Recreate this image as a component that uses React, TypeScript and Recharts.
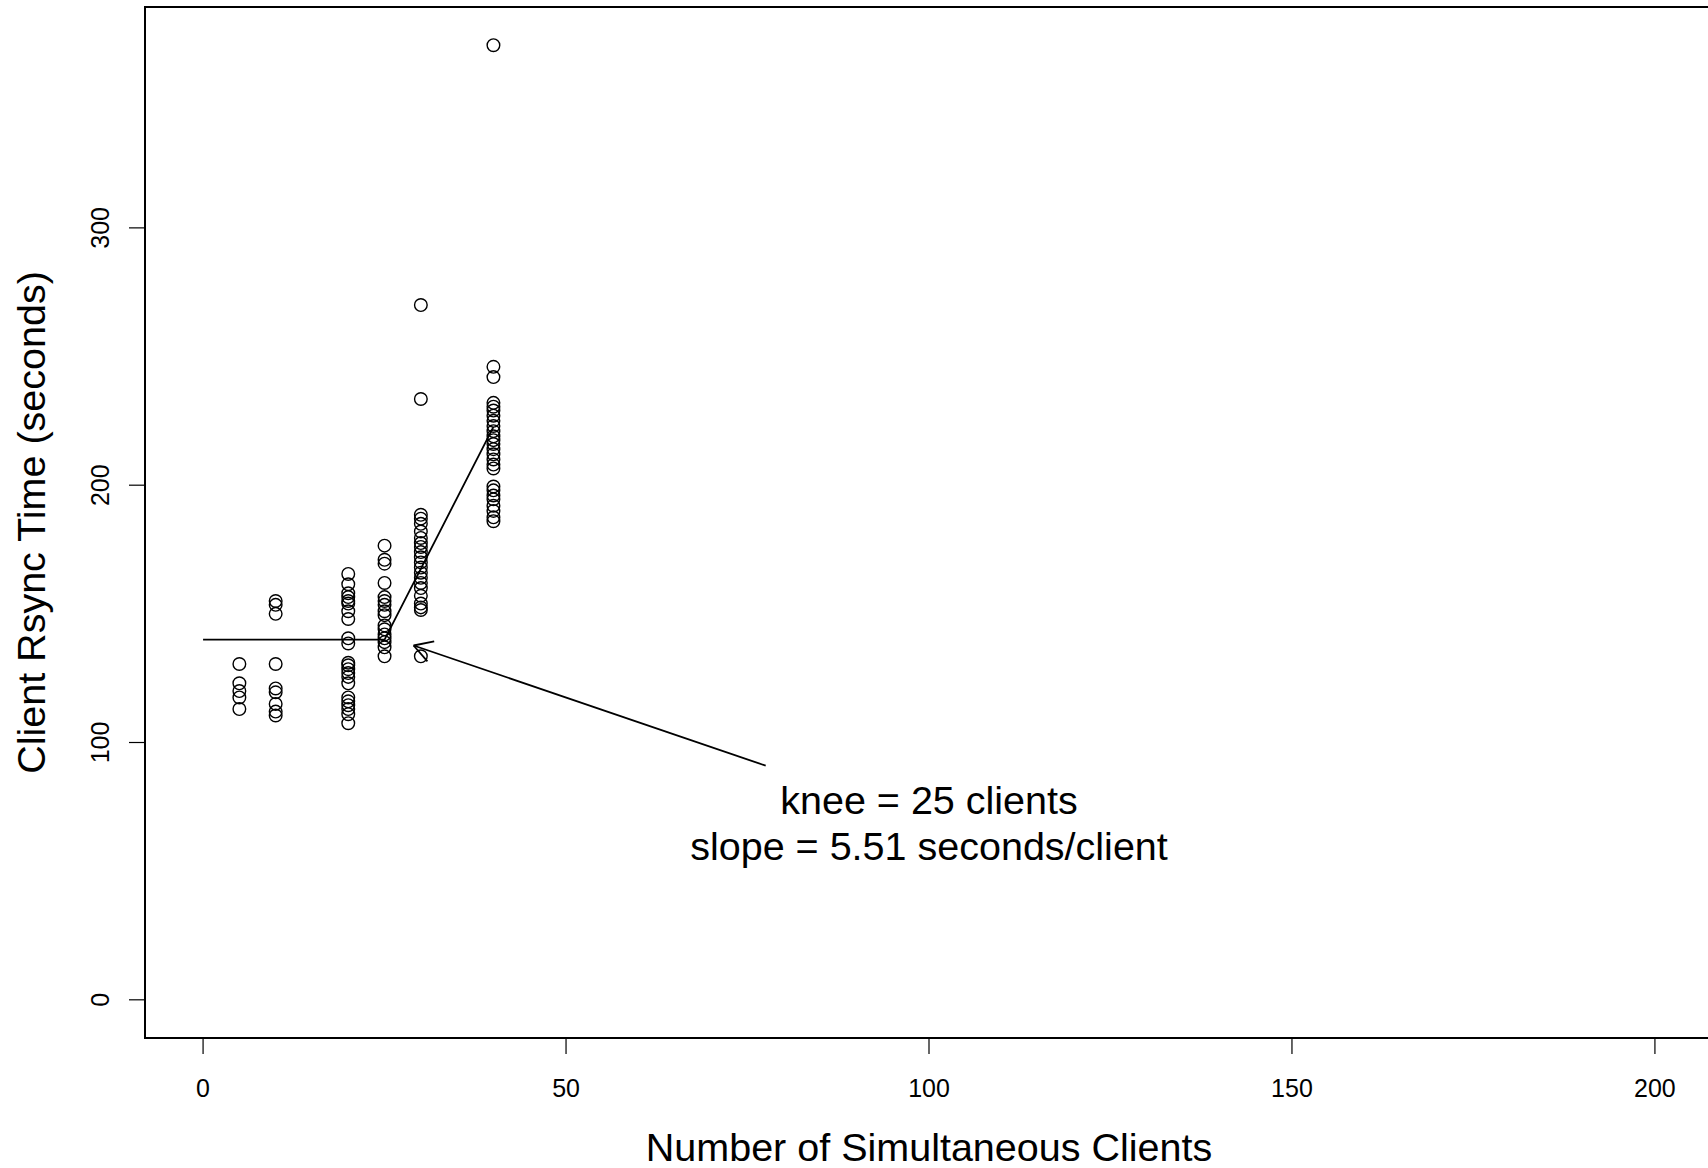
import React from 'react';
import {
  ScatterChart,
  Scatter,
  XAxis,
  YAxis,
  ReferenceArea,
  ReferenceLine,
} from 'recharts';

// rsync times (seconds) observed for each number of simultaneous clients
const clients5 = [130.5, 123, 120, 117.5, 113];
const clients10 = [155, 153.5, 150, 130.5, 121, 119.5, 115, 112, 110.5];
const clients20 = [
  165.5, 161.5, 158, 156.5, 155, 154, 151, 148, 140.5, 138.5, 131, 130, 128.5, 127, 125.5, 123,
  117.5, 116, 114.5, 113, 111, 107.5,
];
const clients25 = [176.5, 171, 169.5, 162, 156.5, 155, 153.5, 151, 149.5, 145.5, 144, 142, 140.5, 139, 137, 133.5];
const clients30 = [
  270, 233.5, 188.5, 187, 185, 182, 179.5, 177.5, 176, 174, 172, 170, 168, 166, 164, 162, 160, 157, 154,
  152.5, 151.5, 133.5,
];
const clients40 = [
  371, 246, 242, 232, 230.5, 229, 227, 225, 223, 221, 219, 217.5, 216, 214, 212, 210, 208, 206.5, 199.5,
  198, 196, 194.5, 192, 190, 187.5, 186,
];

// segmented fit: flat until the knee, then 5.51 s per client
const fitX = [0, 25, 40];
const fitY = [140, 140, 222.65];

const xTicks = [0, 50, 100, 150, 200];
const yTicks = [0, 100, 200, 300];
const xDomain: [number, number] = [-8, 208];
const yDomain: [number, number] = [-14.84, 385.84];

const noteX = 100;
const noteY = 70;
const noteLines = ['knee = 25 clients', 'slope = 5.51 seconds/client'];
const arrowFrom = { x: 77.5, y: 91 };
const arrowTo = { x: 29, y: 137.7 };

const xTitle = 'Number of Simultaneous Clients';
const yTitle = 'Client Rsync Time (seconds)';

const groups: Array<[number, number[]]> = [
  [5, clients5],
  [10, clients10],
  [20, clients20],
  [25, clients25],
  [30, clients30],
  [40, clients40],
];
const points = groups.flatMap(([x, ys]) => ys.map((y) => ({ x, y })));
const fitLine = fitX.map((x, i) => ({ x, y: fitY[i] }));

const FONT = '"Liberation Sans", Arial, Helvetica, sans-serif';

const OpenCircle = (props: any) => (
  <circle cx={props.cx} cy={props.cy} r={6.3} fill="none" stroke="#000" strokeWidth={1.4} />
);

const YTick = (props: any) => {
  const { x, y, payload } = props;
  const bx = x - 18;
  return (
    <text x={bx} y={y} transform={`rotate(-90, ${bx}, ${y})`} textAnchor="middle" fontSize={25} fill="#000">
      {payload.value}
    </text>
  );
};

const Arrow = (props: any) => {
  const { x1, y1, x2, y2 } = props;
  const ang = Math.atan2(y1 - y2, x1 - x2);
  const len = 21;
  const a1 = ang + Math.PI / 6;
  const a2 = ang - Math.PI / 6;
  return (
    <g stroke="#000" strokeWidth={1.8} fill="none">
      <line x1={x1} y1={y1} x2={x2} y2={y2} />
      <line x1={x2} y1={y2} x2={x2 + len * Math.cos(a1)} y2={y2 + len * Math.sin(a1)} />
      <line x1={x2} y1={y2} x2={x2 + len * Math.cos(a2)} y2={y2 + len * Math.sin(a2)} />
    </g>
  );
};

const Note = (props: any) => (
  <text x={props.cx} y={props.cy} textAnchor="middle" fontSize={39.5} fill="#000">
    <tspan x={props.cx} dy={-6}>{noteLines[0]}</tspan>
    <tspan x={props.cx} dy={46.5}>{noteLines[1]}</tspan>
  </text>
);

export default function App() {
  return (
    <div
      style={{
        position: 'fixed',
        left: 0,
        top: 0,
        width: 1708,
        height: 1168,
        overflow: 'hidden',
        background: '#fff',
        fontFamily: FONT,
      }}
    >
      <ScatterChart width={1713} height={1168} margin={{ top: 7, right: 0, bottom: 0, left: 0 }}>
        <XAxis
          type="number"
          dataKey="x"
          domain={xDomain}
          ticks={xTicks}
          allowDataOverflow
          height={130}
          axisLine={false}
          tickLine={{ stroke: '#000', strokeWidth: 1.2 }}
          tickSize={16}
          tickMargin={25}
          tick={{ fontSize: 25, fill: '#000' }}
          label={(p: any) => {
            const vb = p.viewBox;
            return (
              <text x={vb.x + vb.width / 2} y={vb.y + 123} textAnchor="middle" fontSize={39.5} fill="#000">
                {xTitle}
              </text>
            );
          }}
        />
        <YAxis
          type="number"
          dataKey="y"
          domain={yDomain}
          ticks={yTicks}
          allowDataOverflow
          width={145}
          axisLine={false}
          tickLine={{ stroke: '#000', strokeWidth: 1.2 }}
          tickSize={16}
          tick={<YTick />}
          label={(p: any) => {
            const vb = p.viewBox;
            const bx = 45;
            const cy = vb.y + vb.height / 2;
            return (
              <text x={bx} y={cy} transform={`rotate(-90, ${bx}, ${cy})`} textAnchor="middle" fontSize={39.5} fill="#000">
                {yTitle}
              </text>
            );
          }}
        />
        <ReferenceArea
          x1={xDomain[0]}
          x2={xDomain[1]}
          y1={yDomain[0]}
          y2={yDomain[1]}
          fill="none"
          fillOpacity={0}
          stroke="#000"
          strokeWidth={2}
          ifOverflow="visible"
        />
        <Scatter data={points} shape={OpenCircle} isAnimationActive={false} />
        <Scatter
          data={fitLine}
          line={{ stroke: '#000', strokeWidth: 1.8 }}
          shape={() => <g />}
          isAnimationActive={false}
        />
        <ReferenceLine segment={[arrowFrom, arrowTo]} shape={Arrow} ifOverflow="visible" />
        <Scatter data={[{ x: noteX, y: noteY }]} shape={Note} isAnimationActive={false} />
      </ScatterChart>
    </div>
  );
}
